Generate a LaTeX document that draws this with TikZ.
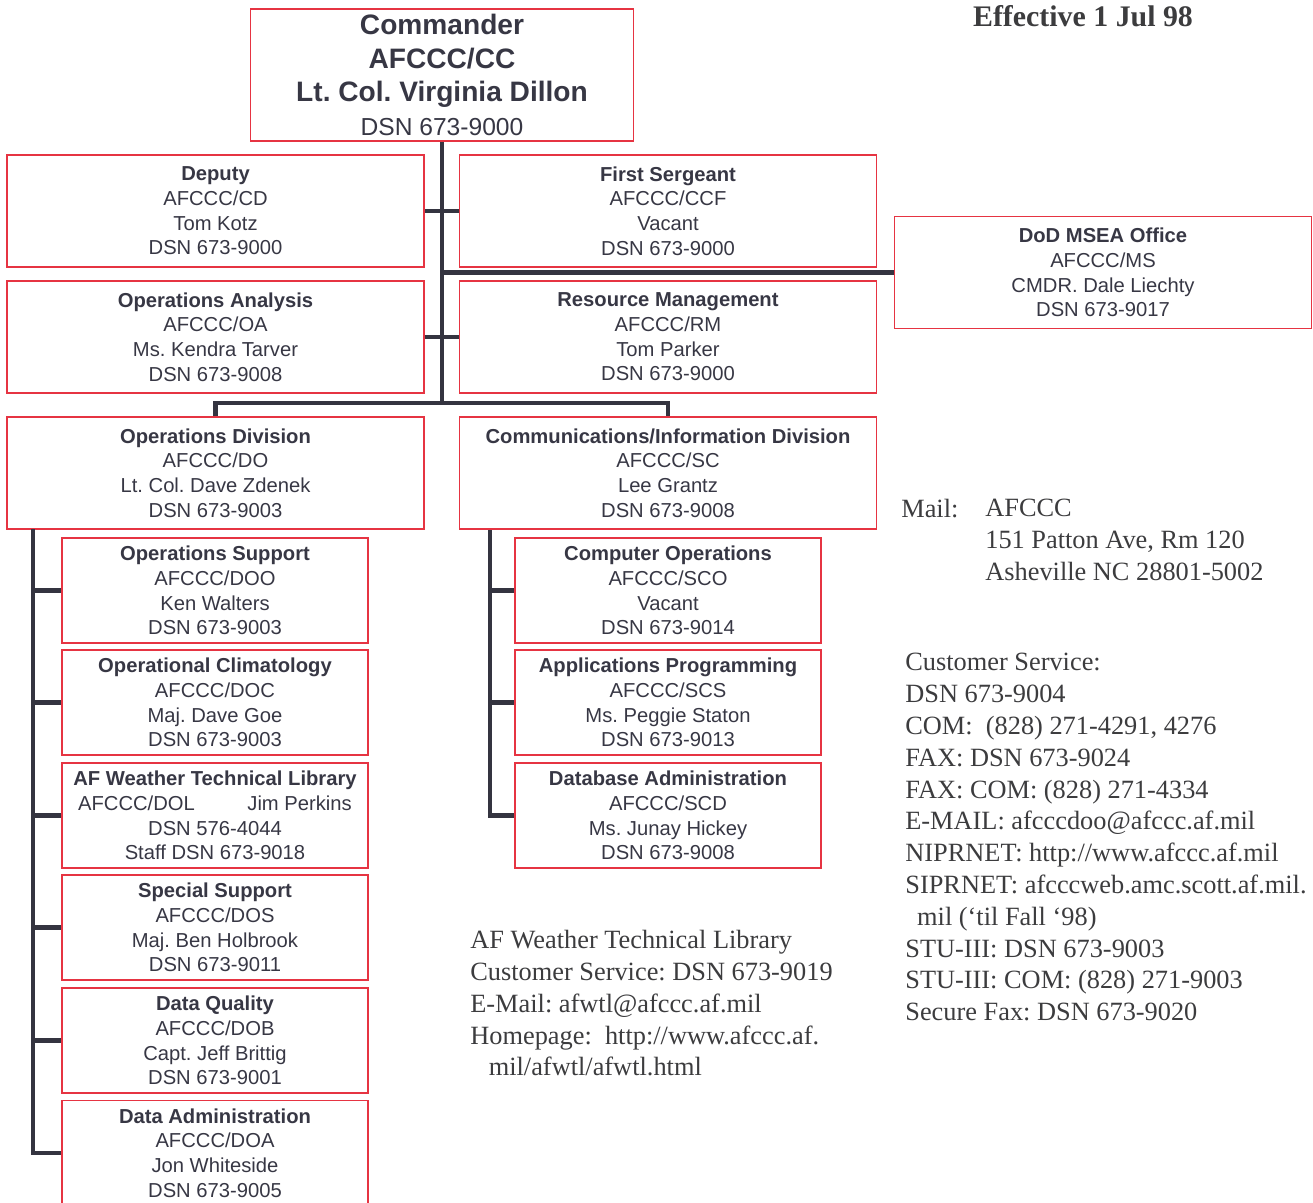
\documentclass[tikz,border=0pt]{standalone}
\usepackage{fontspec}
\setmainfont{Liberation Serif}
\setsansfont{Liberation Sans}
\usetikzlibrary{positioning}
\definecolor{boxred}{RGB}{230,52,66}
\definecolor{ink}{RGB}{55,55,68}
\definecolor{wire}{RGB}{52,52,64}
\definecolor{print}{RGB}{60,60,62}
\frenchspacing

\begin{document}
\begin{tikzpicture}[x=0.02cm,y=-0.02cm,
	unit/.style={draw=boxred,line width=1pt,text=ink,align=center,inner sep=0pt,font=\sffamily\fontsize{11.5}{14}\selectfont},
	wide/.style={unit,minimum width=8.34cm,minimum height=2.24cm},
	narrow/.style={unit,minimum width=6.12cm,minimum height=2.1cm},
	link/.style={draw=wire,line width=2.6pt},
	note/.style={text=print,align=left,inner sep=0pt,anchor=north west,font=\fontsize{15}{18.1}\selectfont}]
	\useasboundingbox (0,0) rectangle (1313,1203);
	% top of the chart
	\draw (442,75) node [unit,minimum width=7.66cm,minimum height=2.64cm,font=\sffamily\bfseries\fontsize{16}{19.2}\selectfont] (cmd) {Commander\\AFCCC/CC\\Lt. Col. Virginia Dillon\\{\mdseries\fontsize{14}{19.2}\selectfont DSN 673-9000}};
	\draw (215.5,211) node [wide] (dep) {\textbf{Deputy}\\AFCCC/CD\\Tom Kotz\\DSN 673-9000};
	\draw (668,211) node [wide] (fsg) {\textbf{First Sergeant}\\AFCCC/CCF\\Vacant\\DSN 673-9000};
	\draw (1103,272.5) node [wide] (msea) {\textbf{DoD MSEA Office}\\AFCCC/MS\\CMDR. Dale Liechty\\DSN 673-9017};
	\draw (215.5,337) node [wide] (oa) {\textbf{Operations Analysis}\\AFCCC/OA\\Ms. Kendra Tarver\\DSN 673-9008};
	\draw (668,337) node [wide] (rm) {\textbf{Resource Management}\\AFCCC/RM\\Tom Parker\\DSN 673-9000};
	% divisions
	\draw (215.5,473) node [wide] (opsdiv) {\textbf{Operations Division}\\AFCCC/DO\\Lt. Col. Dave Zdenek\\DSN 673-9003};
	\draw (668,473) node [wide] (comdiv) {\textbf{Communications/Information Division}\\AFCCC/SC\\Lee Grantz\\DSN 673-9008};
	% operations branches
	\draw (215,590.5) node [narrow] (osup) {\textbf{Operations Support}\\AFCCC/DOO\\Ken Walters\\DSN 673-9003};
	\draw (215,702.5) node [narrow] (oclim) {\textbf{Operational Climatology}\\AFCCC/DOC\\Maj. Dave Goe\\DSN 673-9003};
	\draw (215,815.5) node [narrow] (lib) {\textbf{AF Weather Technical Library}\\AFCCC/DOL\hspace{2.6em}Jim Perkins\\DSN 576-4044\\Staff DSN 673-9018};
	\draw (215,927.5) node [narrow] (ssup) {\textbf{Special Support}\\AFCCC/DOS\\Maj. Ben Holbrook\\DSN 673-9011};
	\draw (215,1040.5) node [narrow] (dq) {\textbf{Data Quality}\\AFCCC/DOB\\Capt. Jeff Brittig\\DSN 673-9001};
	\draw (215,1153) node [narrow] (dadm) {\textbf{Data Administration}\\AFCCC/DOA\\Jon Whiteside\\DSN 673-9005};
	% communications branches
	\draw (668,590.5) node [narrow] (cops) {\textbf{Computer Operations}\\AFCCC/SCO\\Vacant\\DSN 673-9014};
	\draw (668,702.5) node [narrow] (apps) {\textbf{Applications Programming}\\AFCCC/SCS\\Ms. Peggie Staton\\DSN 673-9013};
	\draw (668,815.5) node [narrow] (dba) {\textbf{Database Administration}\\AFCCC/SCD\\Ms. Junay Hickey\\DSN 673-9008};
	% connectors
	\coordinate (bus) at (442,403);
	\coordinate (lspine) at (33,529);
	\coordinate (rspine) at (490,530);
	\draw[link] (cmd) -- (bus);
	\draw[link] (dep) -- (fsg);
	\draw[link] (oa) -- (rm);
	\draw[link] (bus |- msea.west) -- (msea);
	\draw[link] (opsdiv) |- (bus) -| (comdiv);
	\draw[link] (lspine) |- (dadm);
	\foreach \n in {osup,oclim,lib,ssup,dq}
		\draw[link] (lspine |- \n.west) -- (\n);
	\draw[link] (rspine) |- (dba);
	\foreach \n in {cops,apps}
		\draw[link] (rspine |- \n.west) -- (\n);
	% notes
	\draw (1083,27) node [text=print,anchor=base,inner sep=0pt,font=\bfseries\fontsize{17}{20}\selectfont] (eff) {Effective 1 Jul 98};
	\draw (901,499) node [note] (mail) {Mail:};
	\draw (985,499) node [note] (addr) {AFCCC\\151 Patton Ave, Rm 120\\Asheville NC 28801-5002};
	\draw (905,653) node [note] (cserv) {Customer Service:\\DSN 673-9004\\COM:\ \ (828) 271-4291, 4276\\FAX: DSN 673-9024\\FAX: COM: (828) 271-4334\\E-MAIL: afcccdoo@afccc.af.mil\\NIPRNET: http://www.afccc.af.mil\\SIPRNET: afcccweb.amc.scott.af.mil.\\\hspace{0.45em}mil (‘til Fall ‘98)\\STU-III: DSN 673-9003\\STU-III: COM: (828) 271-9003\\Secure Fax: DSN 673-9020};
	\draw (470,930) node [note] (wtl) {AF Weather Technical Library\\Customer Service: DSN 673-9019\\E-Mail: afwtl@afccc.af.mil\\Homepage:\ \ http://www.afccc.af.\\\hspace{0.7em}mil/afwtl/afwtl.html};
\end{tikzpicture}
\end{document}
